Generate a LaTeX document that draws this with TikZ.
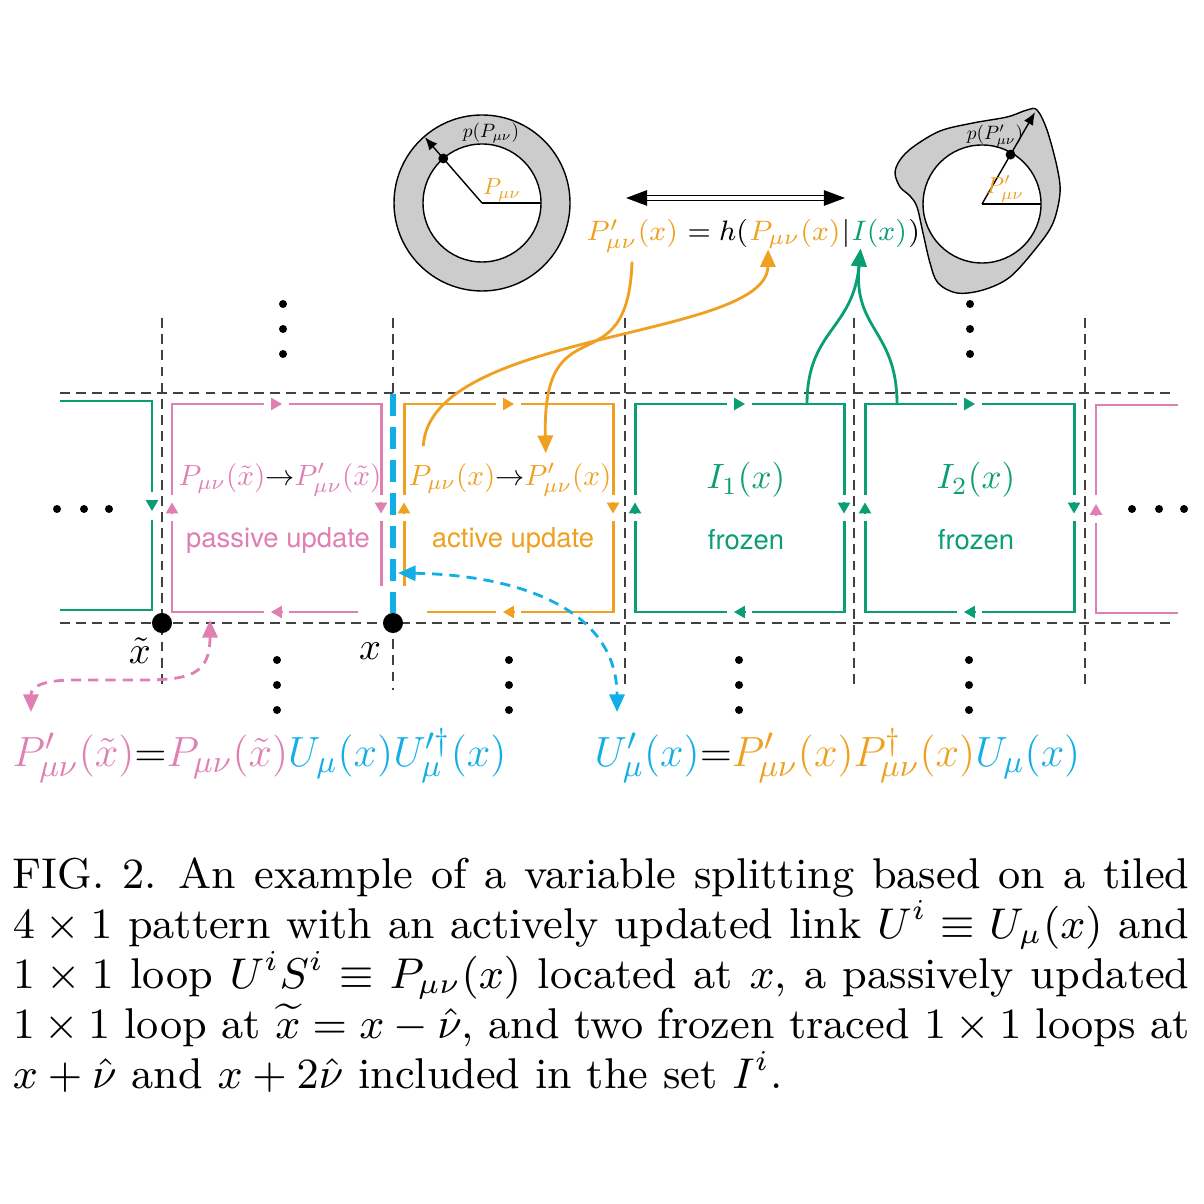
\documentclass[tikz,border=0pt]{standalone}
\usepackage{fontspec}
\setsansfont{TeX Gyre Heros}
\usetikzlibrary{positioning,calc,arrows.meta}

\definecolor{pinkc}{HTML}{DF7FB2}
\definecolor{orangec}{HTML}{EFA020}
\definecolor{greenc}{HTML}{0A9E74}
\definecolor{cyanc}{HTML}{12AFE6}

\tikzset{
  gridline/.style={black!75, line width=0.45pt, dash pattern=on 2.8pt off 1.8pt},
  loopline/.style={line width=0.85pt, line cap=rect},
  tri/.style={line cap=butt, -{Triangle[length=3.1pt,width=3.5pt]}},
  conn/.style={line width=0.8pt},
  ftip/.tip={Triangle[length=5pt,width=4.3pt]},
  dashcurve/.style={dash pattern=on 2.9pt off 2pt},
  site/.style={circle, fill, inner sep=0pt, minimum size=5.7pt},
  smalldot/.style={circle, fill, inner sep=0pt, minimum size=2.8pt},
  boxmath/.style={font=\fontsize{10}{12}\selectfont, scale=0.83},
  boxtext/.style={font=\sffamily\fontsize{7.8}{9}\selectfont},
  eqfont/.style={font=\fontsize{8.2}{10}\selectfont, inner sep=0pt},
  tinylabel/.style={font=\fontsize{10}{12}\selectfont, scale=0.55},
  bigeq/.style={font=\fontsize{12.4}{14}\selectfont, inner sep=0pt, anchor=base west}
}

\begin{document}
\begin{tikzpicture}[x=0.01cm, y=-0.01cm]
  \useasboundingbox (0,0) rectangle (1204,1204);

	%lattice
    \foreach \y in {393,623}{
        \draw[gridline] (60,\y) -- (1176,\y);
    }
    \foreach \x in {162,625,854,1085}{
        \draw[gridline] (\x,318) -- (\x,690);
    }
    \draw[gridline] (393,318) -- (393,393);
    \draw[gridline] (393,623) -- (393,690);

	%loops
    \foreach \lx/\col/\ra/\rb/\rc/\rd in {172/pinkc/0.27/0.24/0/0, 404/orangec/0/0/0.24/0.27, 635/greenc/0/0/0/0, 865/greenc/0/0/0/0}{
        \coordinate (nw) at (\lx,404);
        \coordinate (ne) at (\lx+209,404);
        \coordinate (se) at (\lx+209,612);
        \coordinate (sw) at (\lx,612);
        \foreach \P/\Q/\sa/\sb in {nw/ne/0/0, ne/se/0/\ra, se/sw/\rb/\rc, sw/nw/\rd/0}{
            \draw[loopline, \col, shorten <=\sa cm] (\P) -- ($(\P)!0.5!(\Q)!0.14cm!(\P)$);
            \draw[loopline, \col, shorten >=\sb cm] ($(\P)!0.5!(\Q)!0.14cm!(\Q)$) -- (\Q);
            \draw[tri, \col] ($(\P)!0.5!(\Q)!0.055cm!(\P)$) -- ($(\P)!0.5!(\Q)!0.055cm!(\Q)$);
        }
    }

	%neighbouring loops
    \draw[greenc, line width=0.45pt] (60,401) -- (152,401) -- (152,492);
    \draw[greenc, line width=0.45pt] (152,520) -- (152,610) -- (60,610);
    \draw[tri, greenc] (152,500) -- (152,511);
    \draw[pinkc, line width=0.45pt] (1178,405) -- (1096,405) -- (1096,495);
    \draw[pinkc, line width=0.45pt] (1096,523) -- (1096,613) -- (1178,613);
    \draw[tri, pinkc] (1096,515) -- (1096,504);

	%updated link
    \draw[cyanc, line width=1.7pt, dash pattern=on 6.3pt off 3.1pt] (393,394) -- (393,613);

	%sites
    \node[site] (xt) at (162,623) {};
    \node[site] (xs) at (393,623) {};
    \node[font=\fontsize{11}{13}\selectfont] (xtl) at (140,651) {$\tilde{x}$};
    \node[font=\fontsize{11}{13}\selectfont] (xsl) at (370,651) {$x$};

	%dots
    \foreach \x in {277,509,739,969}{
        \foreach \y in {660,685,710}{
            \fill (\x,\y) circle[radius=4];
        }
    }
    \foreach \x in {283,970}{
        \foreach \y in {304,329,354}{
            \fill (\x,\y) circle[radius=4];
        }
    }
    \foreach \x in {57,84,109,1132,1159,1184}{
        \fill (\x,509) circle[radius=4];
    }

	%loop labels
    \node[boxmath, pinkc] (pl) at (280,480) {$P_{\mu\nu}(\tilde{x}){\color{black}\to}P'_{\mu\nu}(\tilde{x})$};
    \node[boxtext, pinkc] (pt) at (278,540) {passive update};
    \node[boxmath, orangec] (ol) at (510,480) {$P_{\mu\nu}(x){\color{black}\to}P'_{\mu\nu}(x)$};
    \node[boxtext, orangec] (ot) at (513,540) {active update};
    \node[greenc, font=\fontsize{9.6}{11}\selectfont] (g1) at (746,480) {$I_1(x)$};
    \node[boxtext, greenc] (g1t) at (746,540) {frozen};
    \node[greenc, font=\fontsize{9.6}{11}\selectfont] (g2) at (976,480) {$I_2(x)$};
    \node[boxtext, greenc] (g2t) at (976,540) {frozen};

	%distributions
    \coordinate (c1) at (482,203);
    \fill[gray!40, even odd rule] (c1) circle[radius=88] (c1) circle[radius=59];
    \draw[line width=0.4pt] (c1) circle[radius=88];
    \draw[line width=0.4pt] (c1) circle[radius=59];
    \draw[line width=0.4pt] (c1) -- +(59,0);
    \draw[line width=0.4pt, -{Latex[length=3.6pt,width=3pt]}] (c1) -- ($(c1)+(-131:87)$);
    \node[smalldot] (d1) at ($(c1)+(-131:59)$) {};
    \node[tinylabel] (pp1) at (491,133) {$p(P_{\mu\nu})$};
    \node[tinylabel, orangec, scale=1.2] (pm1) at (502,190) {$P_{\mu\nu}$};

    \coordinate (c2) at (982,204);
    \filldraw[fill=gray!40, draw=black, line width=0.4pt] plot[smooth cycle, tension=0.55] coordinates {
        (1037,110) (1047,130) (1057,167) (1060,193) (1053,223) (1037,247) (1010,277)
        (983,290) (957,293) (938,283) (930,263) (923,233) (917,207) (910,196)
        (900,187) (895,173) (900,160) (913,147) (940,131) (973,123) (1007,117) (1027,110)};
    \filldraw[fill=white, draw=black, line width=0.4pt] (c2) circle[radius=59];
    \draw[line width=0.4pt] (c2) -- +(59,0);
    \draw[line width=0.4pt, -{Latex[length=3.6pt,width=3pt]}] (c2) -- ($(c2)+(-60:106)$);
    \node[smalldot] (d2) at ($(c2)+(-60:57)$) {};
    \node[tinylabel] (pp2) at (995,136) {$p(P'_{\mu\nu})$};
    \node[tinylabel, orangec, scale=1.2] (pm2) at (1005,189) {$P'_{\mu\nu}$};

	%update rule
    \node[eqfont, orangec, anchor=base west] (Pp) at (586,241) {$P'_{\mu\nu}(x)$};
    \node[eqfont, base right=0pt of Pp] (eqh) {${}=h($};
    \node[eqfont, orangec, base right=0pt of eqh] (Pa) {$P_{\mu\nu}(x)$};
    \node[eqfont, base right=0pt of Pa] (bar) {$|$};
    \node[eqfont, greenc, base right=0pt of bar] (Ix) {$I(x)$};
    \node[eqfont, base right=0pt of Ix] (cl) {$)$};

    \coordinate (dl) at (626,198);
    \coordinate (dr) at (845,198);
    \draw[double, double distance=1.1pt, line width=0.4pt, {Triangle[length=6pt,width=4.4pt]}-{Triangle[length=6pt,width=4.4pt]}] (dl) -- (dr);

	%connections
    \coordinate (olin) at ($(ol.north west)!0.66!(ol.north east)$);
    \coordinate (olout) at ($(ol.north west)!0.11!(ol.north east)$);
    \coordinate (Pin) at ($(Pa.south west)!0.21!(Pa.south east)$);
    \coordinate (Iin) at ($(Ix.south west)!0.17!(Ix.south east)$);
    \coordinate (g1top) at (807,404);
    \coordinate (g2top) at (897,404);

    \draw[conn, orangec, -{ftip}, shorten <=2.5pt] (Pp.south) .. controls (628,390) and (542,300) .. (olin);
    \draw[conn, orangec, -{ftip}, shorten <=2pt] (olout) .. controls (430,330) and (767,340) .. (Pin);
    \draw[conn, greenc, -{ftip}] (g1top) .. controls (807,330) and (853,330) .. (Iin);
    \draw[conn, greenc, -{ftip}] (g2top) .. controls (897,330) and (853,330) .. (Iin);

	%link and loop rules
    \node[bigeq] (eqL) at (12,766) {$\color{pinkc}P'_{\mu\nu}(\tilde{x}){\color{black}=}P_{\mu\nu}(\tilde{x})\color{cyanc}U_\mu(x)U'^{\dagger}_\mu(x)$};
    \node[bigeq] (eqR) at (594,766) {$\color{cyanc}U'_\mu(x){\color{black}=}\color{orangec}P'_{\mu\nu}(x)P^{\dagger}_{\mu\nu}(x)\color{cyanc}U_\mu(x)$};

    \coordinate (lnk) at (398,573);
    \coordinate (pbot) at (210,620);
    \coordinate (ue) at ($(eqR.north west)+(23,-16)$);
    \coordinate (pe) at ($(eqL.north west)+(19,-16)$);

    \draw[conn, cyanc, dashcurve, {ftip}-{ftip}] (lnk) .. controls (520,575) and (617,610) .. (ue);
    \draw[conn, pinkc, dashcurve, {ftip}-{ftip}] (pbot) .. controls (210,675) and (190,680) .. (140,680) -- (75,680) .. controls (35,680) and (31,690) .. (pe);

	%caption
    \node[anchor=base west, inner sep=0pt, text width=246pt, align=justify,
          font=\fontsize{9}{10.5}\selectfont, scale=1.36] (cap) at (12,888)
    {FIG.~2.\enspace An example of a variable splitting based on a tiled\linebreak
     $4\times 1$ pattern with an actively updated link $U^i\equiv U_\mu(x)$ and\linebreak
     $1\times 1$ loop $U^iS^i\equiv P_{\mu\nu}(x)$ located at $x$, a passively updated\linebreak
     $1\times 1$ loop at $\widetilde{x}=x-\hat{\nu}$, and two frozen traced $1\times 1$ loops at\linebreak
     $x+\hat{\nu}$ and $x+2\hat{\nu}$ included in the set $I^i$.};

\end{tikzpicture}
\end{document}
